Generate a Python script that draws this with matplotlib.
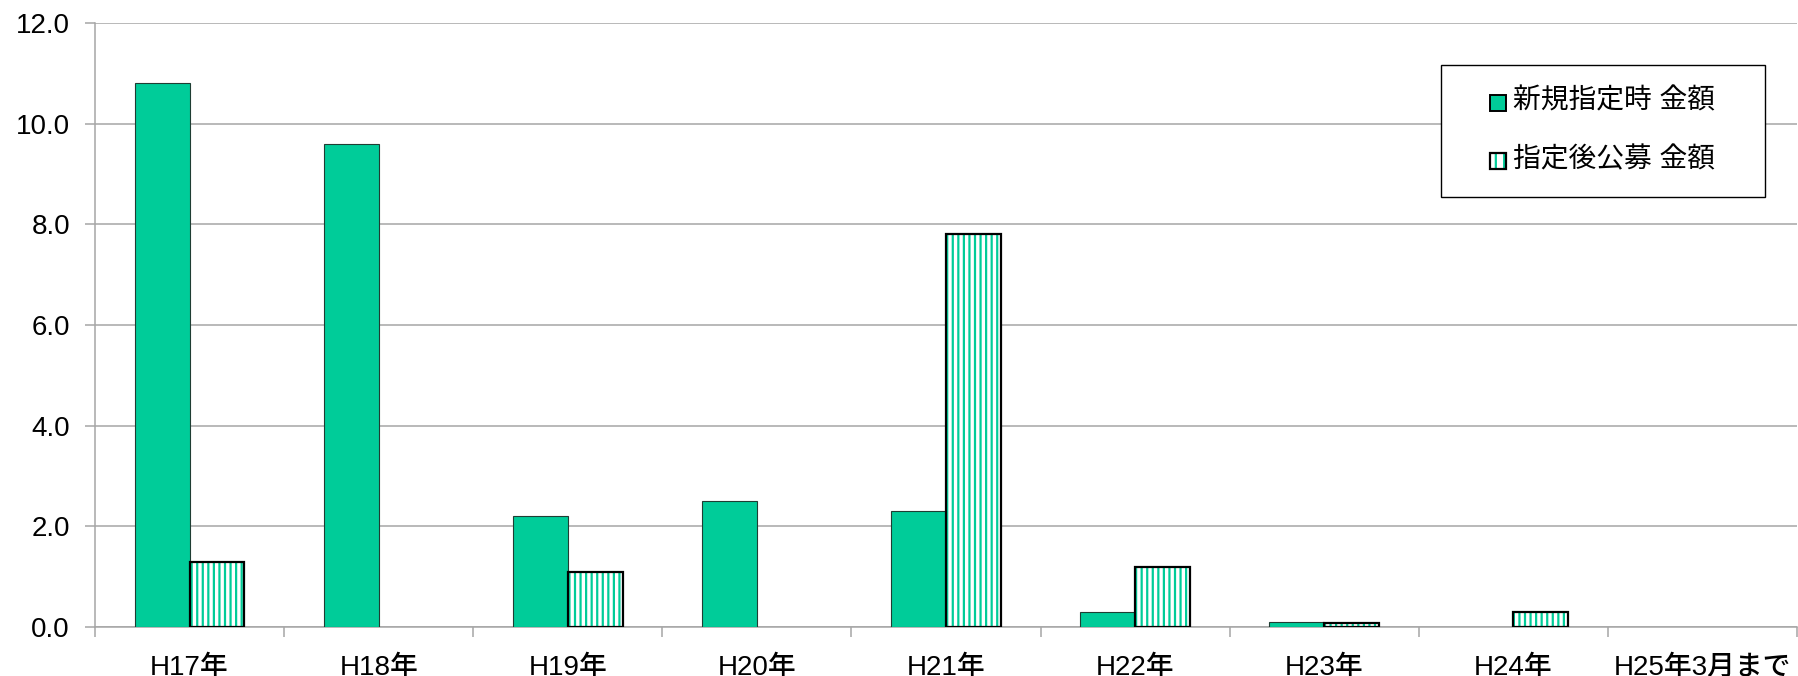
import matplotlib.pyplot as plt
import numpy as np
from matplotlib.patches import Patch, Rectangle

plt.rcParams['font.family'] = ['Liberation Sans', 'Noto Sans CJK JP', 'DejaVu Sans']
plt.rcParams['hatch.linewidth'] = 1.6

# 年度別の金額（億円）
years = ['H17年', 'H18年', 'H19年', 'H20年', 'H21年', 'H22年', 'H23年', 'H24年', 'H25年3月まで']
new_amount = [10.8, 9.6, 2.2, 2.5, 2.3, 0.3, 0.1, 0.0, 0.0]
after_amount = [1.3, 0.0, 1.1, 0.0, 7.8, 1.2, 0.08, 0.3, 0.0]
series_names = ['新規指定時 金額', '指定後公募 金額']

green = '#00CC99'
grid_gray = '#A6A6A6'


class SquareHandler:
    # 凡例の小さい四角（ハンドル枠の右寄せ）
    def __init__(self, hatched):
        self.hatched = hatched

    def legend_artist(self, legend, orig_handle, fontsize, handlebox):
        s = handlebox.height
        x0 = handlebox.xdescent + handlebox.width - s
        y0 = handlebox.ydescent
        tr = handlebox.get_transform()
        if self.hatched:
            back = Rectangle((x0, y0), s, s, facecolor='white', edgecolor=green,
                             hatch='||', linewidth=0, transform=tr)
            handlebox.add_artist(back)
            box = Rectangle((x0, y0), s, s, fill=False, edgecolor='black',
                            linewidth=1.6, transform=tr)
        else:
            box = Rectangle((x0, y0), s, s, facecolor=green, edgecolor='black',
                            linewidth=1.4, transform=tr)
        handlebox.add_artist(box)
        return box


fig = plt.figure(figsize=(17.98, 6.76), dpi=100)
ax = fig.add_axes([95 / 1798, 1 - 627 / 676, 1702 / 1798, 604 / 676])

x = np.arange(len(years))
new_arr = np.array(new_amount)
after_arr = np.array(after_amount)
w = 0.29

m1 = new_arr > 0
m2 = after_arr > 0
ax.bar(x[m1] - w / 2, new_arr[m1], w, color=green, edgecolor='#1f3d33', linewidth=0.8, zorder=3)
# 縦縞の棒：縞を描いてから黒枠を重ねる
ax.bar(x[m2] + w / 2, after_arr[m2], w, color='white', edgecolor=green, hatch='|||',
       linewidth=0, zorder=3)
ax.bar(x[m2] + w / 2, after_arr[m2], w, fill=False, edgecolor='black', linewidth=1.6, zorder=4)

ax.set_xlim(-0.5, len(years) - 0.5)
ax.set_ylim(0, 12)
yt = np.arange(0, 12.1, 2)
ax.set_yticks(yt)
ax.set_yticklabels([f'{v:.1f}' for v in yt])
ax.yaxis.grid(True, color=grid_gray, linewidth=1.1, zorder=0)
ax.set_axisbelow(True)

ax.set_xticks(x)
ax.set_xticklabels(years, fontweight=500)
ax.set_xticks(np.arange(-0.5, len(years), 1), minor=True)
ax.tick_params(axis='x', which='major', length=0, pad=20, labelsize=20)
ax.tick_params(axis='x', which='minor', length=7, width=1.1, color=grid_gray, direction='out')
ax.tick_params(axis='y', length=7, width=1.1, color=grid_gray, pad=11, labelsize=20)

for side in ['top', 'right']:
    ax.spines[side].set_visible(False)
for side in ['left', 'bottom']:
    ax.spines[side].set_color(grid_gray)
    ax.spines[side].set_linewidth(1.1)

h1 = Patch(label=series_names[0])
h2 = Patch(label=series_names[1])
leg = ax.legend([h1, h2], series_names,
                handler_map={h1: SquareHandler(False), h2: SquareHandler(True)},
                loc='center', bbox_to_anchor=((1603 - 95) / 1702, (627 - 131) / 604),
                fontsize=20, frameon=False,
                handlelength=0.55, handleheight=0.5, handletextpad=0.25,
                labelspacing=1.15, borderpad=0)

# 凡例の枠（左右の余白を広めに取る）
fig.canvas.draw()
bb = leg.get_window_extent().transformed(fig.transFigure.inverted())
padx, pady = 50 / 1798, 24 / 676
frame = Rectangle((bb.x0 - padx, bb.y0 - pady), bb.width + 2 * padx, bb.height + 2 * pady,
                  transform=fig.transFigure, fill=True, facecolor='white',
                  edgecolor='black', linewidth=1.0, zorder=5)
fig.add_artist(frame)
leg.set_zorder(6)
fig.add_artist(leg)

fig.savefig('out.png', dpi=100)
